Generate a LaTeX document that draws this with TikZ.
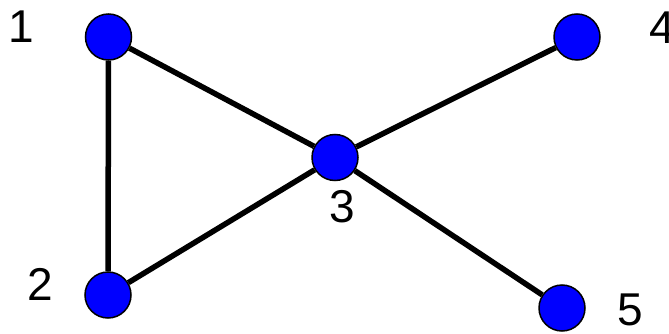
\documentclass[tikz,border=0pt]{standalone}
\usepackage{fontspec}
\setmainfont{Liberation Sans}
\begin{document}
\begin{tikzpicture}[x=1pt,y=-1pt,
  vtx/.style={circle,draw=black,line width=1.5pt,fill=blue,minimum size=46pt,inner sep=0pt},
  lbl/.style={font=\fontsize{46}{46}\selectfont,inner sep=0pt},
  edge/.style={line width=5.5pt}]
\useasboundingbox (0,0) rectangle (669,334);
\node[vtx] (n1) at (108.5,37) {};
\node[vtx] (n2) at (108,295) {};
\node[vtx] (n3) at (335,157.5) {};
\node[vtx] (n4) at (577,37) {};
\node[vtx] (n5) at (562,308) {};
\draw[edge] (n1) -- (n2);
\draw[edge] (n1) -- (n3);
\draw[edge] (n2) -- (n3);
\draw[edge] (n3) -- (n4);
\draw[edge] (n3) -- (n5);
\node[lbl] (l1) at (21,27) {1};
\node[lbl] (l2) at (40,284) {2};
\node[lbl] (l3) at (342,207) {3};
\node[lbl] (l4) at (662,28) {4};
\node[lbl] (l5) at (630,310) {5};
\end{tikzpicture}
\end{document}
